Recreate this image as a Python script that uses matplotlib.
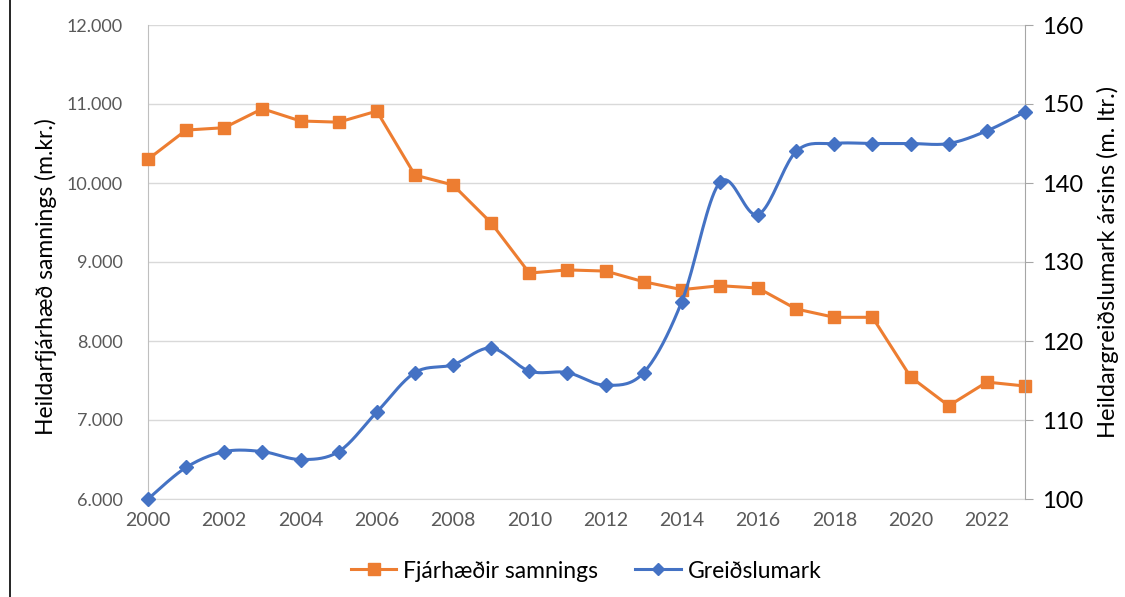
import numpy as np
import matplotlib.pyplot as plt
from matplotlib.lines import Line2D
from matplotlib.ticker import FuncFormatter

plt.rcParams['font.family'] = ['Lato', 'DejaVu Sans']

years = list(range(2000, 2024))
fjarhaedir = [10300, 10670, 10700, 10940, 10785, 10770, 10910, 10100, 9975, 9495,
              8860, 8900, 8885, 8750, 8650, 8700, 8670, 8405, 8300, 8300,
              7545, 7180, 7480, 7430]
greidslumark = [100, 104, 106, 106, 105, 106, 111, 116, 117, 119.1,
                116.2, 116, 114.4, 116, 125, 140.1, 136, 144, 145, 145,
                145, 145, 146.6, 149]

orange = '#ED7D31'
blue = '#4472C4'


def smooth(x, y, n=20):
    # Catmull-Rom like Excel's smoothed line
    x = np.asarray(x, float)
    y = np.asarray(y, float)
    px = np.concatenate([[x[0]], x, [x[-1]]])
    py = np.concatenate([[y[0]], y, [y[-1]]])
    xs, ys = [], []
    t = np.linspace(0, 1, n, endpoint=False)
    for i in range(1, len(px) - 2):
        for p, out in ((px, xs), (py, ys)):
            p0, p1, p2, p3 = p[i - 1], p[i], p[i + 1], p[i + 2]
            out.extend(0.5 * (2 * p1 + (-p0 + p2) * t
                              + (2 * p0 - 5 * p1 + 4 * p2 - p3) * t ** 2
                              + (-p0 + 3 * p1 - 3 * p2 + p3) * t ** 3))
    xs.append(x[-1])
    ys.append(y[-1])
    return xs, ys


fig = plt.figure(figsize=(11.25, 5.97), dpi=100)
ax = fig.add_axes([148 / 1125, 1 - 499 / 597, 877 / 1125, 474 / 597])
ax2 = ax.twinx()

ax.plot(years, fjarhaedir, color=orange, lw=2.2, marker='s', ms=9, zorder=3, clip_on=False)
sx, sy = smooth(years, greidslumark)
ax2.plot(sx, sy, color=blue, lw=2.2, zorder=3, clip_on=False)
ax2.plot(years, greidslumark, ls='none', color=blue, marker='D', ms=7.5, zorder=4, clip_on=False)

ax.set_xlim(2000, 2023)
ax.set_ylim(6000, 12000)
ax2.set_ylim(100, 160)
ax.set_xticks(range(2000, 2023, 2))
ax.set_yticks(range(6000, 12001, 1000))
ax2.set_yticks(range(100, 161, 10))
ax.yaxis.set_major_formatter(FuncFormatter(lambda v, p: f'{int(v):,}'.replace(',', '.')))

ax.grid(axis='y', color='#d9d9d9', lw=1)
ax.set_axisbelow(True)
for a in (ax, ax2):
    for s in a.spines.values():
        s.set_visible(False)
ax.spines['left'].set_visible(True)
ax.spines['left'].set_color('#bfbfbf')
ax.spines['bottom'].set_visible(True)
ax.spines['bottom'].set_color('#d9d9d9')
ax2.spines['right'].set_visible(True)
ax2.spines['right'].set_color('#a6a6a6')

ax.tick_params(axis='y', length=0, pad=18, labelsize=13, labelcolor='#595959')
ax.tick_params(axis='x', length=0, pad=9, labelsize=14, labelcolor='#595959')
ax2.tick_params(axis='y', length=6, color='#a6a6a6', pad=6, labelsize=17, labelcolor='black')

ax.set_ylabel('Heildarfjárhæð samnings (m.kr.)', fontsize=16.5)
ax.yaxis.set_label_coords(-0.104, 0.47)
ax2.set_ylabel('Heildargreiðslumark ársins (m. ltr.)', fontsize=17, labelpad=10)

handles = [Line2D([], [], color=orange, lw=2.2, marker='s', ms=8),
           Line2D([], [], color=blue, lw=2.2, marker='D', ms=6.5)]
fig.legend(handles, ['Fjárhæðir samnings', 'Greiðslumark'], loc='center',
           bbox_to_anchor=(586 / 1125, 1 - 571 / 597), ncol=2, frameon=False,
           fontsize=16.5, handlelength=2.0, columnspacing=1.6, handletextpad=0.3)

fig.add_artist(Line2D([10 / 1125, 10 / 1125], [0, 1], color='black', lw=1.2))

fig.savefig('out.png', dpi=100)
